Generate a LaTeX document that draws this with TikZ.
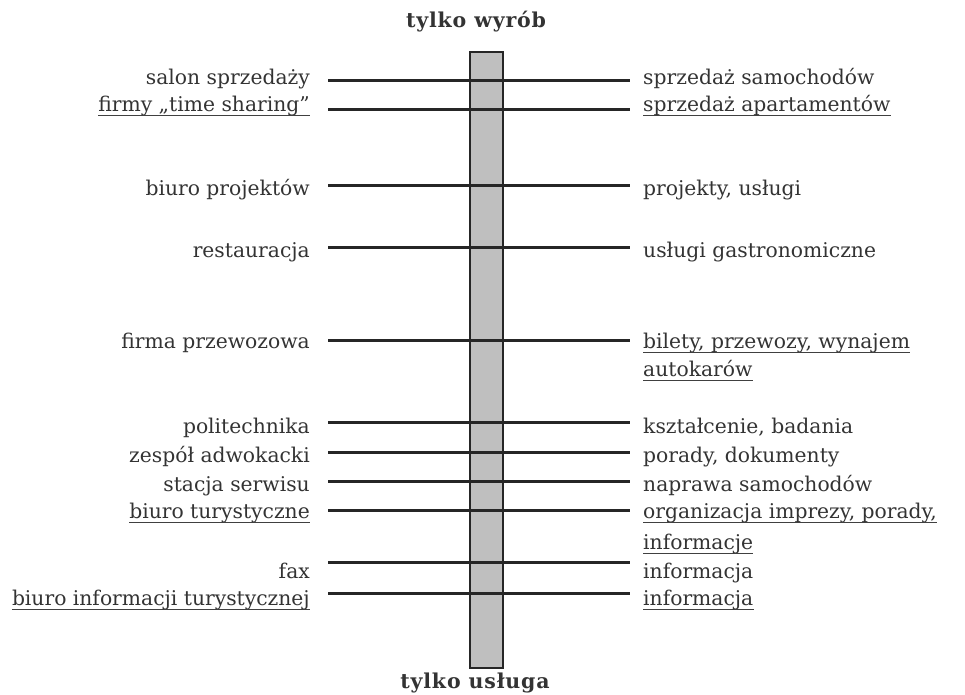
\documentclass[tikz,border=0pt]{standalone}
\usepackage{fontspec}
\setmainfont{DejaVu Serif}
\newfontfamily\titlefont[LetterSpace=4]{DejaVu Serif}
\begin{document}
\begin{tikzpicture}[x=1pt,y=-1pt,
  lab/.style={inner sep=0pt, font=\fontsize{20.3}{24}\selectfont, text=black!80},
  lft/.style={lab, anchor=base east},
  rgt/.style={lab, anchor=base west},
  ttl/.style={lab, anchor=base, font=\titlefont\fontsize{20.5}{24}\selectfont\bfseries},
  bar/.style={draw=black!85, line width=1.2pt, fill=black!25},
  hline/.style={draw=black!85, line width=3pt},
  ul/.style={draw=black!75, line width=1.1pt}]
\useasboundingbox (0,0) rectangle (965,694);
\path[bar] (470,52) rectangle (503,668);
\node[ttl] (top) at (476,27) {tylko wyrób};
\node[ttl] (bot) at (475,688) {tylko usługa};
% line end points
\foreach \n/\y in {a/80,b/109,c/185,d/247,e/340,f/422,g/452,h/481,i/510,j/562,k/593}{
  \coordinate (L\n) at (328,\y);
  \coordinate (R\n) at (630,\y);
  \draw[hline] (L\n) -- (R\n);
}
% left labels
\node[lft] (la) at (310,84) {salon sprzedaży};
\node[lft] (lb) at (310,111) {firmy „time sharing”};
\node[lft] (lc) at (310,195) {biuro projektów};
\node[lft] (ld) at (310,257) {restauracja};
\node[lft] (le) at (310,348) {firma przewozowa};
\node[lft] (lf) at (310,433) {politechnika};
\node[lft] (lg) at (310,462) {zespół adwokacki};
\node[lft] (lh) at (310,491) {stacja serwisu};
\node[lft] (li) at (310,518) {biuro turystyczne};
\node[lft] (lj) at (310,578) {fax};
\node[lft] (lk) at (310,605) {biuro informacji turystycznej};
% right labels
\node[rgt] (ra) at (643,84) {sprzedaż samochodów};
\node[rgt] (rb) at (643,111) {sprzedaż apartamentów};
\node[rgt] (rc) at (643,195) {projekty, usługi};
\node[rgt] (rd) at (643,257) {usługi gastronomiczne};
\node[rgt] (re) at (643,348) {bilety, przewozy, wynajem};
\node[rgt] (re2) at (643,376) {autokarów};
\node[rgt] (rf) at (643,433) {kształcenie, badania};
\node[rgt] (rg) at (643,462) {porady, dokumenty};
\node[rgt] (rh) at (643,491) {naprawa samochodów};
\node[rgt] (ri) at (643,518) {organizacja imprezy, porady,};
\node[rgt] (ri2) at (643,549) {informacje};
\node[rgt] (rj) at (643,578) {informacja};
\node[rgt] (rk) at (643,605) {informacja};
% underlines
\foreach \n in {lb,rb,re,re2,li,ri,ri2,lk,rk}{
  \draw[ul] ([yshift=-4.5pt]\n.base west) -- ([yshift=-4.5pt]\n.base east);
}
\end{tikzpicture}
\end{document}
